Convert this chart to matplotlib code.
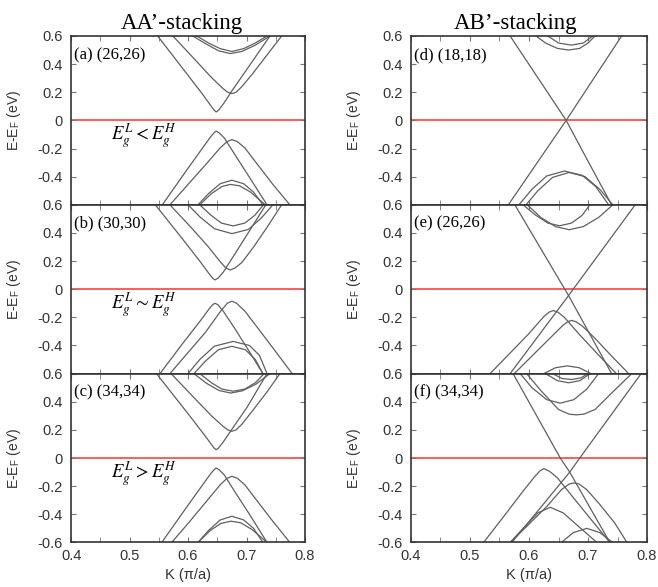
import matplotlib
matplotlib.use("Agg")
import matplotlib.pyplot as plt
from matplotlib.ticker import MultipleLocator, FuncFormatter

plt.rcParams['font.family'] = ['Liberation Sans', 'DejaVu Sans']
plt.rcParams['mathtext.fontset'] = 'stix'

# ---- band data, (K, E) points read per band ----
# (a) AA' (26,26)
a_c1 = [(0.548, 0.60), (0.600, 0.32), (0.625, 0.185), (0.638, 0.11), (0.644, 0.075), (0.648, 0.060),
        (0.652, 0.072), (0.660, 0.115), (0.675, 0.21), (0.700, 0.36), (0.740, 0.60)]
a_c2 = [(0.574, 0.60), (0.610, 0.44), (0.640, 0.305), (0.660, 0.225), (0.668, 0.200), (0.675, 0.190),
        (0.682, 0.200), (0.692, 0.24), (0.710, 0.33), (0.735, 0.465), (0.760, 0.60)]
a_c3 = [(0.615, 0.60), (0.635, 0.55), (0.655, 0.51), (0.675, 0.49), (0.695, 0.51), (0.715, 0.55), (0.735, 0.60)]
a_c4 = [(0.608, 0.60), (0.630, 0.545), (0.652, 0.495), (0.672, 0.475), (0.692, 0.49), (0.715, 0.535), (0.740, 0.60)]
a_v1 = [(0.556, -0.60), (0.600, -0.34), (0.625, -0.195), (0.638, -0.12), (0.644, -0.09), (0.648, -0.076),
        (0.653, -0.088), (0.662, -0.125), (0.680, -0.243), (0.705, -0.405), (0.735, -0.60)]
a_v2 = [(0.569, -0.60), (0.600, -0.455), (0.630, -0.315), (0.655, -0.195), (0.667, -0.150), (0.675, -0.137),
        (0.684, -0.150), (0.697, -0.195), (0.720, -0.32), (0.745, -0.455), (0.774, -0.60)]
a_v3 = [(0.617, -0.60), (0.635, -0.52), (0.655, -0.45), (0.675, -0.425), (0.695, -0.45), (0.712, -0.51), (0.728, -0.60)]
a_v4 = [(0.620, -0.60), (0.640, -0.52), (0.658, -0.47), (0.672, -0.455), (0.688, -0.465), (0.707, -0.51), (0.732, -0.60)]

# (b) AA' (30,30)
b_c1 = [(0.544, 0.60), (0.590, 0.36), (0.620, 0.20), (0.636, 0.11), (0.642, 0.078), (0.646, 0.066),
        (0.651, 0.078), (0.660, 0.12), (0.680, 0.25), (0.705, 0.415), (0.733, 0.60)]
b_c2 = [(0.569, 0.60), (0.605, 0.44), (0.635, 0.30), (0.656, 0.19), (0.665, 0.150), (0.672, 0.137),
        (0.680, 0.150), (0.692, 0.19), (0.712, 0.30), (0.735, 0.44), (0.760, 0.60)]
b_c3 = [(0.620, 0.60), (0.638, 0.53), (0.657, 0.47), (0.677, 0.45), (0.697, 0.47), (0.714, 0.525), (0.729, 0.60)]
b_c4 = [(0.600, 0.60), (0.620, 0.515), (0.645, 0.43), (0.675, 0.395), (0.703, 0.425), (0.725, 0.505), (0.745, 0.60)]
b_v1 = [(0.552, -0.60), (0.590, -0.39), (0.620, -0.23), (0.636, -0.14), (0.642, -0.11), (0.646, -0.100),
        (0.651, -0.11), (0.660, -0.155), (0.680, -0.28), (0.705, -0.445), (0.728, -0.60)]
b_v2 = [(0.569, -0.60), (0.600, -0.45), (0.630, -0.305), (0.655, -0.16), (0.667, -0.10), (0.675, -0.085),
        (0.683, -0.10), (0.697, -0.155), (0.720, -0.28), (0.750, -0.445), (0.778, -0.60)]
b_v3 = [(0.600, -0.60), (0.620, -0.50), (0.645, -0.405), (0.677, -0.371), (0.705, -0.40), (0.722, -0.47), (0.735, -0.60)]
b_v4 = [(0.610, -0.60), (0.630, -0.51), (0.652, -0.43), (0.675, -0.406), (0.698, -0.43), (0.715, -0.50), (0.728, -0.60)]

# (c) AA' (34,34)
c_c1 = [(0.546, 0.60), (0.600, 0.315), (0.625, 0.18), (0.638, 0.108), (0.644, 0.073), (0.648, 0.059),
        (0.652, 0.071), (0.660, 0.113), (0.675, 0.205), (0.700, 0.355), (0.735, 0.60)]
c_c2 = [(0.571, 0.60), (0.610, 0.43), (0.640, 0.30), (0.660, 0.225), (0.668, 0.200), (0.675, 0.190),
        (0.682, 0.200), (0.692, 0.24), (0.710, 0.335), (0.735, 0.47), (0.757, 0.60)]
c_c3 = [(0.620, 0.60), (0.640, 0.535), (0.658, 0.49), (0.677, 0.475), (0.697, 0.49), (0.715, 0.535), (0.730, 0.60)]
c_c4 = [(0.610, 0.60), (0.632, 0.53), (0.653, 0.48), (0.673, 0.462), (0.693, 0.478), (0.716, 0.525), (0.740, 0.60)]
c_v1 = [(0.555, -0.60), (0.600, -0.335), (0.625, -0.19), (0.638, -0.115), (0.644, -0.085), (0.648, -0.071),
        (0.653, -0.083), (0.662, -0.12), (0.680, -0.24), (0.705, -0.40), (0.735, -0.60)]
c_v2 = [(0.572, -0.60), (0.600, -0.465), (0.630, -0.315), (0.655, -0.19), (0.667, -0.143), (0.675, -0.130),
        (0.684, -0.143), (0.697, -0.19), (0.720, -0.315), (0.745, -0.45), (0.774, -0.60)]
c_v3 = [(0.617, -0.60), (0.635, -0.515), (0.655, -0.44), (0.675, -0.414), (0.695, -0.44), (0.712, -0.50), (0.728, -0.60)]
c_v4 = [(0.617, -0.60), (0.638, -0.515), (0.656, -0.465), (0.673, -0.449), (0.690, -0.46), (0.710, -0.51), (0.735, -0.60)]

# (d) AB' (18,18)
d_l1 = [(0.568, 0.60), (0.663, 0.0), (0.700, -0.29), (0.740, -0.60)]
d_l2 = [(0.565, -0.60), (0.663, 0.0), (0.757, 0.60)]
d_c1 = [(0.612, 0.60), (0.628, 0.55), (0.648, 0.512), (0.667, 0.50), (0.686, 0.512), (0.700, 0.55), (0.712, 0.60)]
d_c2 = [(0.632, 0.60), (0.650, 0.55), (0.672, 0.535), (0.692, 0.55), (0.708, 0.60)]
d_v1 = [(0.583, -0.60), (0.605, -0.49), (0.630, -0.395), (0.660, -0.360), (0.690, -0.39), (0.713, -0.47), (0.735, -0.60)]
d_v2 = [(0.595, -0.60), (0.615, -0.50), (0.640, -0.405), (0.668, -0.370), (0.695, -0.40), (0.720, -0.49), (0.742, -0.60)]

# (e) AB' (26,26)
e_l1 = [(0.576, 0.60), (0.667, -0.045), (0.740, -0.60)]
e_l2 = [(0.568, -0.60), (0.667, -0.045), (0.780, 0.60)]
e_c1 = [(0.590, 0.60), (0.610, 0.53), (0.632, 0.47), (0.652, 0.451), (0.672, 0.47), (0.690, 0.525), (0.703, 0.60)]
e_c2 = [(0.597, 0.60), (0.620, 0.51), (0.645, 0.445), (0.668, 0.423), (0.692, 0.445), (0.718, 0.51), (0.742, 0.60)]
e_v1 = [(0.534, -0.60), (0.570, -0.445), (0.600, -0.315), (0.625, -0.195), (0.634, -0.163), (0.641, -0.152),
        (0.649, -0.163), (0.660, -0.20), (0.685, -0.32), (0.715, -0.455), (0.748, -0.60)]
e_v2 = [(0.575, -0.60), (0.605, -0.475), (0.635, -0.35), (0.658, -0.255), (0.666, -0.230), (0.672, -0.222),
        (0.679, -0.230), (0.690, -0.26), (0.712, -0.35), (0.740, -0.475), (0.769, -0.60)]
e_v3 = [(0.625, -0.60), (0.645, -0.558), (0.665, -0.545), (0.685, -0.558), (0.705, -0.60)]

# (f) AB' (34,34)
f_l1 = [(0.573, 0.60), (0.653, 0.0), (0.669, -0.10), (0.737, -0.60)]
f_l2 = [(0.571, -0.60), (0.669, -0.10), (0.686, 0.0), (0.790, 0.60)]
f_c1 = [(0.585, 0.60), (0.605, 0.50), (0.630, 0.415), (0.653, 0.390), (0.676, 0.415), (0.698, 0.49), (0.718, 0.60)]
f_c2 = [(0.596, 0.60), (0.620, 0.48), (0.650, 0.345), (0.668, 0.312), (0.680, 0.307), (0.693, 0.312),
        (0.712, 0.345), (0.742, 0.47), (0.774, 0.60)]
f_c3 = [(0.628, 0.60), (0.648, 0.55), (0.667, 0.535), (0.686, 0.55), (0.704, 0.60)]
f_c4 = [(0.640, 0.60), (0.656, 0.565), (0.672, 0.558), (0.688, 0.57), (0.700, 0.60)]
f_v1 = [(0.523, -0.60), (0.560, -0.40), (0.590, -0.235), (0.610, -0.13), (0.619, -0.09), (0.625, -0.075),
        (0.635, -0.095), (0.648, -0.14), (0.670, -0.255), (0.700, -0.41), (0.737, -0.60)]
f_v2 = [(0.568, -0.60), (0.600, -0.47), (0.630, -0.345), (0.655, -0.225), (0.668, -0.185), (0.676, -0.177),
        (0.685, -0.185), (0.698, -0.225), (0.720, -0.33), (0.745, -0.46), (0.766, -0.60)]
f_v3 = [(0.568, -0.60), (0.590, -0.50), (0.615, -0.39), (0.636, -0.350), (0.658, -0.39), (0.685, -0.49), (0.715, -0.60)]
f_v4 = [(0.655, -0.60), (0.675, -0.53), (0.698, -0.500), (0.720, -0.53), (0.742, -0.60)]

panels = [
    ("(a) (26,26)", [a_c1, a_c2, a_c3, a_c4, a_v1, a_v2, a_v3, a_v4], r"$E_g^L < E_g^H$"),
    ("(b) (30,30)", [b_c1, b_c2, b_c3, b_c4, b_v1, b_v2, b_v3, b_v4], r"$E_g^L \sim E_g^H$"),
    ("(c) (34,34)", [c_c1, c_c2, c_c3, c_c4, c_v1, c_v2, c_v3, c_v4], r"$E_g^L > E_g^H$"),
    ("(d) (18,18)", [d_l1, d_l2, d_c1, d_c2, d_v1, d_v2], None),
    ("(e) (26,26)", [e_l1, e_l2, e_c1, e_c2, e_v1, e_v2, e_v3], None),
    ("(f) (34,34)", [f_l1, f_l2, f_c1, f_c2, f_c3, f_c4, f_v1, f_v2, f_v3, f_v4], None),
]

fig = plt.figure(figsize=(6.58, 5.87), dpi=100)

col_x = [0.108, 0.6246]
col_w = [0.3556, 0.3587]
top = 0.9387
h = 0.2876

serif = ['Liberation Serif', 'DejaVu Serif']
fig.text(0.277, 0.960, "AA\u2019-stacking", family=serif, fontsize=16.5, ha='center', va='center')
fig.text(0.783, 0.960, "AB\u2019-stacking", family=serif, fontsize=16.5, ha='center', va='center')


def ylab(v, _):
    if abs(v) < 1e-9:
        return '0'
    return f'{v:.1f}'


def ylab_upper(v, _):
    # the -0.6 slot is shared with the 0.6 of the panel below
    if v < -0.59:
        return ''
    return ylab(v, _)


for i, (label, bands, note) in enumerate(panels):
    col, row = divmod(i, 3)
    ax = fig.add_axes([col_x[col], top - (row + 1) * h, col_w[col], h])
    ax.axhline(0, color='#ff5050', lw=1.3, zorder=1)
    for band in bands:
        ks = [p[0] for p in band]
        es = [p[1] for p in band]
        ax.plot(ks, es, color='#606060', lw=0.9, zorder=2)

    ax.set_xlim(0.4, 0.8)
    ax.set_ylim(-0.6, 0.6)
    ax.xaxis.set_major_locator(MultipleLocator(0.1))
    ax.xaxis.set_minor_locator(MultipleLocator(0.05))
    ax.yaxis.set_major_locator(MultipleLocator(0.2))
    ax.yaxis.set_major_formatter(FuncFormatter(ylab if row == 2 else ylab_upper))
    ax.tick_params(which='both', direction='in', top=True, right=True, length=3.5,
                   color='#777777', labelsize=10.5, labelcolor='#333333')
    ax.tick_params(axis='y', pad=6)
    ax.tick_params(axis='x', pad=5)
    for sp in ax.spines.values():
        sp.set_color('#333333')
        sp.set_linewidth(1.2)

    if row < 2:
        ax.set_xticklabels([])
    else:
        ax.set_xlabel("K (\u03c0/a)", fontsize=10.5, color='#333333', labelpad=3)

    ax.set_ylabel(r"E-E$_\mathregular{F}$ (eV)", fontsize=10, color='#333333')
    ax.yaxis.set_label_coords(-0.205, 0.5)

    ax.text(0.012, 0.935, label, transform=ax.transAxes, family=serif, fontsize=12,
            ha='left', va='top')
    if note:
        ax.text(0.525, -0.11, note, fontsize=13.5, ha='center', va='center')

fig.savefig("out.png", dpi=100)
